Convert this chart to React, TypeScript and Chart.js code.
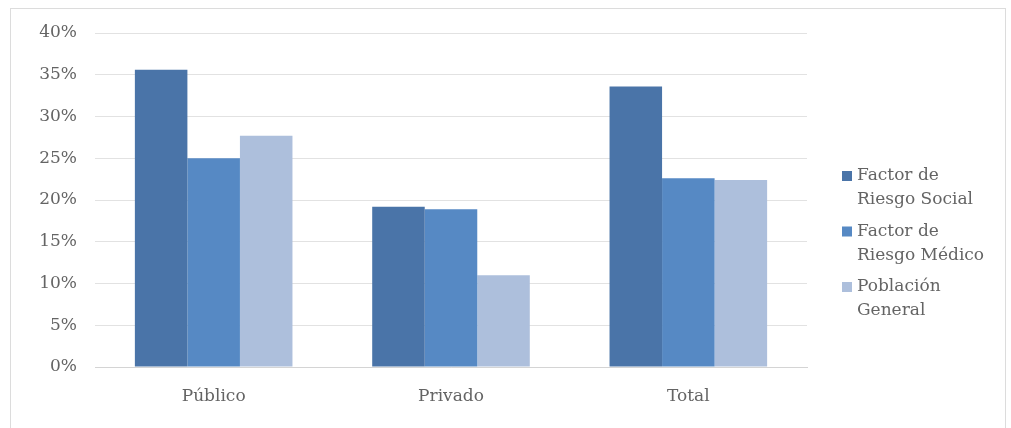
import React, { useEffect, useRef } from "react";
import { Chart, registerables } from "chart.js";

Chart.register(...registerables);

const categories = ["Público", "Privado", "Total"];
const seriesNames = ["Factor de Riesgo Social", "Factor de Riesgo Médico", "Población General"];
const legendLines = [
  ["Factor de", "Riesgo Social"],
  ["Factor de", "Riesgo Médico"],
  ["Población", "General"],
];
const socialValues = [35.6, 19.2, 33.6];
const medicalValues = [25.0, 18.9, 22.6];
const generalValues = [27.7, 11.0, 22.4];
const yTicks = [0, 5, 10, 15, 20, 25, 30, 35, 40];

const colors = ["#4a74a8", "#5689c4", "#adbfdc"];
const FONT = "'DejaVu Serif', serif";
const TEXT = "#646464";

const legendPlugin = {
  id: "sideLegend",
  afterDraw(chart: any) {
    const { ctx, chartArea } = chart;
    const boxX = chartArea.right + 35;
    const textX = boxX + 15;
    const firstY = chartArea.top + 143;
    const step = 55.5;
    const lineGap = 24;
    ctx.save();
    ctx.font = `17px ${FONT}`;
    ctx.textBaseline = "middle";
    ctx.textAlign = "left";
    legendLines.forEach((lines, i) => {
      const y = firstY + i * step;
      ctx.fillStyle = chart.data.datasets[i].backgroundColor;
      ctx.fillRect(boxX, y - 5, 10, 10);
      ctx.fillStyle = TEXT;
      lines.forEach((ln, j) => ctx.fillText(ln, textX, y + j * lineGap));
    });
    ctx.restore();
  },
};

export default function App() {
  const ref = useRef<HTMLCanvasElement>(null);
  useEffect(() => {
    if (!ref.current) return;
    const values = [socialValues, medicalValues, generalValues];
    const chart = new Chart(ref.current, {
      type: "bar",
      data: {
        labels: categories,
        datasets: seriesNames.map((name, i) => ({
          label: name,
          data: values[i],
          backgroundColor: colors[i],
          borderWidth: 0,
          barPercentage: 1,
          categoryPercentage: 0.664,
        })),
      },
      options: {
        animation: false,
        responsive: false,
        devicePixelRatio: 1,
        layout: { padding: { left: 0, right: 204, top: 33, bottom: 0 } },
        plugins: {
          legend: { display: false },
          tooltip: { enabled: false },
        },
        scales: {
          x: {
            grid: { display: false, drawTicks: false },
            border: { display: true, color: "#d4d4d4", width: 1 },
            ticks: { color: TEXT, font: { family: FONT, size: 17 }, padding: 19 },
            afterFit: (s: any) => {
              s.height = 61;
            },
          },
          y: {
            min: 0,
            max: 40,
            afterBuildTicks: (s: any) => {
              s.ticks = yTicks.map((v) => ({ value: v }));
            },
            grid: { color: "#e2e2e2", lineWidth: 1, drawTicks: false },
            border: { display: false },
            ticks: {
              color: TEXT,
              font: { family: FONT, size: 17 },
              padding: 18,
              callback: (v: any) => `${v}%`,
            },
            afterFit: (s: any) => {
              s.width = 95;
            },
          },
        },
      },
      plugins: [legendPlugin],
    });
    return () => chart.destroy();
  }, []);
  return (
    <div style={{ position: "absolute", left: 0, top: 0, width: 1011, height: 428, background: "#fff" }}>
      <div
        style={{
          position: "absolute",
          left: 10,
          top: 8,
          width: 996,
          height: 420,
          border: "1px solid #dcdcdc",
          borderBottom: "none",
          boxSizing: "border-box",
        }}
      />
      <canvas ref={ref} width={1011} height={428} style={{ position: "absolute", left: 0, top: 0 }} />
    </div>
  );
}
